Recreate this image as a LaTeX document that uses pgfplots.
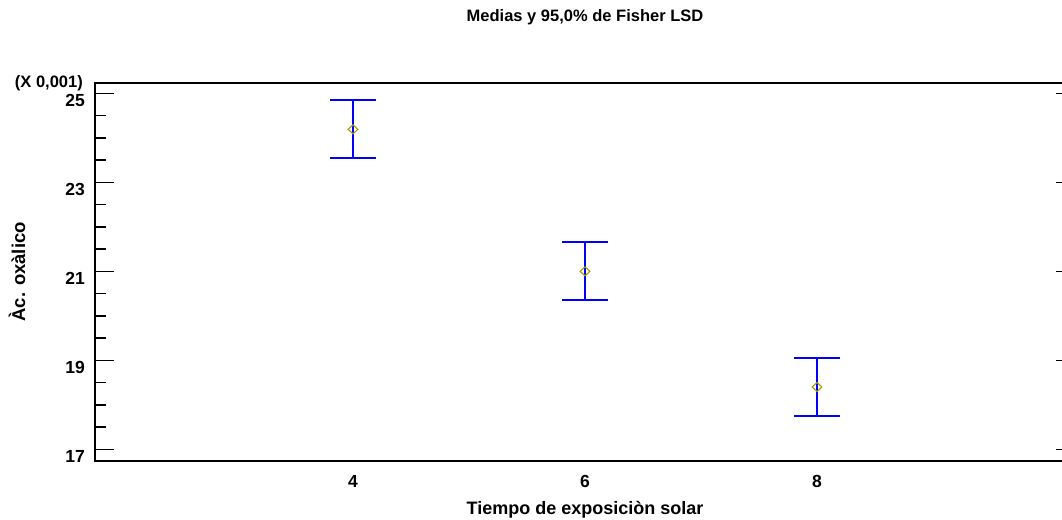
\documentclass[border=0pt]{standalone}
\usepackage{pgfplots}
\pgfplotsset{compat=1.18}
\usepackage{fontspec}
\setmainfont{Liberation Sans}
\definecolor{olivemk}{RGB}{165,155,0}
\begin{document}
\begin{tikzpicture}
\begin{axis}[
  at={(95pt,58.3pt)}, anchor=south west,
  scale only axis, width=980pt, height=377.7pt,
  xmin=1.776, xmax=10.224, ymin=16.744, ymax=25.232,
  xtick={4,6,8}, ytick={17,19,21,23,25},
  minor y tick num=3,
  tick align=inside, ytick pos=both, xtick pos=bottom,
  yticklabel pos=left,
  major tick length=19pt, minor tick length=11pt,
  y tick style={black, line width=1.5pt},
  x tick style={draw=none},
  axis line style={line width=2pt},
  /pgf/number format/assume math mode=true,
  tick label style={font=\fontsize{17.5}{17.5}\selectfont\bfseries},
  yticklabel style={anchor=base east, inner sep=0pt, xshift=-10pt, yshift=-13.5pt},
  xticklabel style={anchor=base, inner sep=0pt, yshift=-27pt},
  title={Medias y 95,0\% de Fisher LSD},
  title style={at={(axis description cs:0.5,1)}, anchor=base, yshift=55pt, inner sep=0pt, font=\fontsize{16.5}{16.5}\selectfont\bfseries},
  xlabel={Tiempo de exposiciòn solar},
  xlabel style={at={(axis description cs:0.5,0)}, anchor=base, yshift=-54pt, inner sep=0pt, font=\fontsize{18}{18}\selectfont\bfseries},
  ylabel={Àc. oxàlico},
  ylabel style={at={(axis description cs:-0.0714,0.5)}, anchor=base, inner sep=0pt, font=\fontsize{18.5}{18.5}\selectfont\bfseries},
  clip=false,
]
\addplot[only marks, mark=diamond, mark size=4.5pt,
  mark options={draw=olivemk, line width=1.1pt, fill=none, xscale=1.45},
  error bars/.cd, y dir=both, y explicit,
  error bar style={blue, line width=1.4pt},
  error mark options={rotate=90, blue, mark size=23pt, line width=2pt}]
  coordinates {
  (4,24.19) +- (0,0.65)
  (6,21.00) +- (0,0.65)
  (8,18.40) +- (0,0.65)
};
\node[anchor=base east, inner sep=0pt, font=\fontsize{16.5}{16.5}\selectfont\bfseries]
  at (axis description cs:0,1) [xshift=-12pt, yshift=-5pt] {(X 0,001)};
\end{axis}
\pgfresetboundingbox
\path[use as bounding box] (0,0) rectangle (1062pt,519pt);
\end{tikzpicture}
\end{document}
